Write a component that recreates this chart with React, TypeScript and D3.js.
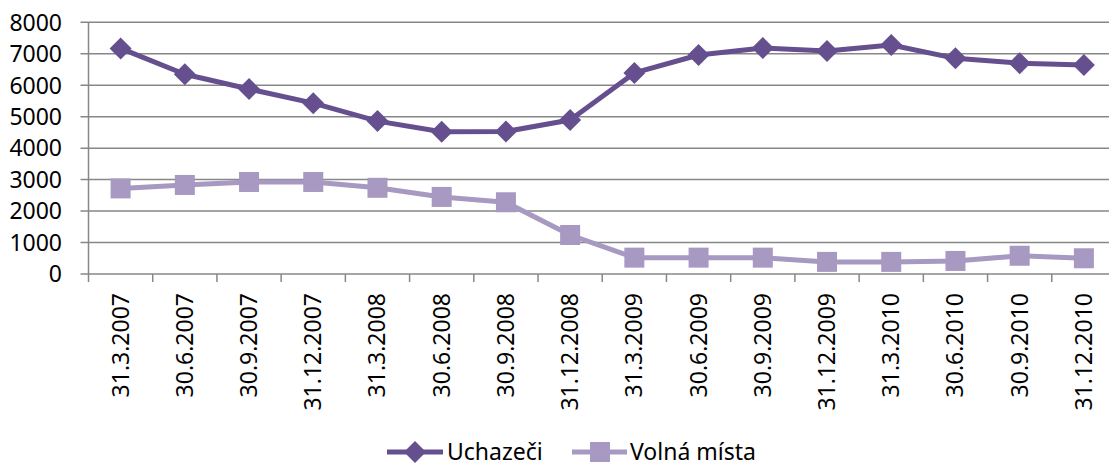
import React from "react";
import * as d3 from "d3";

const categories = ["31.3.2007","30.6.2007","30.9.2007","31.12.2007","31.3.2008","30.6.2008","30.9.2008","31.12.2008","31.3.2009","30.6.2009","30.9.2009","31.12.2009","31.3.2010","30.6.2010","30.9.2010","31.12.2010"];
const uchazeci = [7170, 6350, 5880, 5430, 4860, 4520, 4530, 4895, 6390, 6960, 7180, 7090, 7280, 6855, 6700, 6645];
const volnaMista = [2720, 2830, 2925, 2925, 2740, 2450, 2280, 1240, 520, 520, 520, 385, 385, 415, 580, 500];
const yTicks = [0, 1000, 2000, 3000, 4000, 5000, 6000, 7000, 8000];

const DARK = "#654F8E";
const LIGHT = "#A799C1";
const FONT = "'Noto Sans', 'Open Sans', sans-serif";

export default function App() {
  const W = 1109, H = 464;
  const left = 88.5, right = 1116, top = 22.3, bottom = 274;
  const x = d3.scaleBand<string>().domain(categories).range([left, right]);
  const y = d3.scaleLinear().domain([0, 8000]).range([bottom, top]);
  const cx = (c: string) => (x(c) as number) + x.bandwidth() / 2;
  const line = d3.line<number>().x((_, i) => cx(categories[i])).y(d => y(d));
  const diamond = (px: number, py: number, r: number) => `M${px},${py - r}L${px + r},${py}L${px},${py + r}L${px - r},${py}Z`;

  return (
    <svg width={W} height={H} style={{ position: "absolute", left: 0, top: 0, background: "#fff" }}>
      <rect x={0} y={0} width={W} height={H} fill="#fff" />
      {yTicks.map(t => (
        <g key={t}>
          <line x1={left - 8} x2={right} y1={y(t)} y2={y(t)} stroke="#878787" strokeWidth={1.5} />
          <text x={62} y={y(t)} dy="0.36em" textAnchor="end" fontFamily={FONT} fontSize={23} fill="#000">{t}</text>
        </g>
      ))}
      <line x1={left} x2={left} y1={top} y2={bottom} stroke="#878787" strokeWidth={1.5} />
      {categories.map((c, i) => (
        <line key={"t" + i} x1={x(c) as number} x2={x(c) as number} y1={bottom} y2={bottom + 8} stroke="#878787" strokeWidth={1.5} />
      ))}
      <line x1={right} x2={right} y1={bottom} y2={bottom + 8} stroke="#878787" strokeWidth={1.5} />
      {categories.map(c => (
        <text key={c} transform={`translate(${cx(c) + 8},${293}) rotate(-90)`} textAnchor="end" fontFamily={FONT} fontSize={23} fill="#000">{c}</text>
      ))}
      <path d={line(volnaMista) || ""} fill="none" stroke={LIGHT} strokeWidth={5} strokeLinejoin="round" />
      {volnaMista.map((v, i) => (
        <rect key={"v" + i} x={cx(categories[i]) - 10} y={y(v) - 10} width={20} height={20} fill={LIGHT} />
      ))}
      <path d={line(uchazeci) || ""} fill="none" stroke={DARK} strokeWidth={5} strokeLinejoin="round" />
      {uchazeci.map((v, i) => (
        <path key={"u" + i} d={diamond(cx(categories[i]), y(v), 11)} fill={DARK} />
      ))}
      <g>
        <line x1={387} x2={443} y1={452} y2={452} stroke={DARK} strokeWidth={5} />
        <path d={diamond(415, 452, 11)} fill={DARK} />
        <text x={447} y={452} dy="0.36em" fontFamily={FONT} fontSize={23} fill="#000">Uchazeči</text>
        <line x1={572} x2={627} y1={452} y2={452} stroke={LIGHT} strokeWidth={5} />
        <rect x={590} y={442} width={20} height={20} fill={LIGHT} />
        <text x={630} y={452} dy="0.36em" fontFamily={FONT} fontSize={23} fill="#000">Volná místa</text>
      </g>
    </svg>
  );
}
